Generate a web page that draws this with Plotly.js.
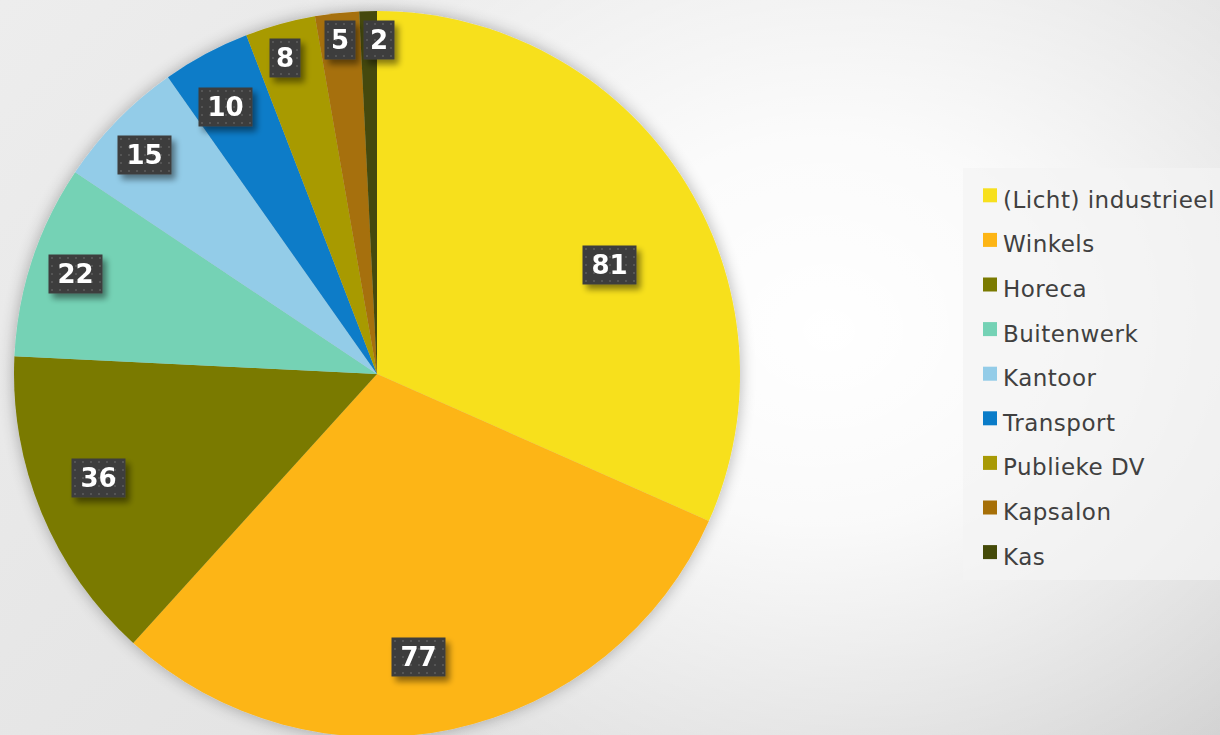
<!DOCTYPE html>
<html>
<head>
<meta charset="utf-8">
<script src="https://cdn.plot.ly/plotly-3.0.1.min.js"></script>
<style>
html, body { margin: 0; padding: 0; width: 1220px; height: 735px; overflow: hidden; }
body {
  background:
    radial-gradient(ellipse 55% 75% at 68% 45%, rgba(255,255,255,1) 0%, rgba(255,255,255,0.85) 35%, rgba(255,255,255,0) 100%),
    linear-gradient(135deg, #ededed 0%, #e4e4e4 50%, #cfcfcf 100%);
}
#chart { width: 1220px; height: 750px; }
.legendtext { letter-spacing: 0.5px; }
</style>
</head>
<body>
<svg width="0" height="0" style="position:absolute">
  <defs>
    <filter id="pieShadow" x="-10%" y="-10%" width="120%" height="120%">
      <feGaussianBlur in="SourceAlpha" stdDeviation="8"/>
      <feComponentTransfer><feFuncA type="linear" slope="0.3"/></feComponentTransfer>
      <feMerge><feMergeNode/><feMergeNode in="SourceGraphic"/></feMerge>
    </filter>
    <filter id="boxShadow" x="-40%" y="-40%" width="200%" height="200%">
      <feGaussianBlur in="SourceAlpha" stdDeviation="3"/>
      <feOffset dx="4" dy="5"/>
      <feComponentTransfer><feFuncA type="linear" slope="0.45"/></feComponentTransfer>
      <feMerge><feMergeNode/><feMergeNode in="SourceGraphic"/></feMerge>
    </filter>
    <pattern id="dots" width="8" height="8" patternUnits="userSpaceOnUse">
      <rect width="8" height="8" fill="#3c3c3c"/>
      <rect x="3" y="3" width="2" height="2" fill="#545454"/>
    </pattern>
  </defs>
</svg>
<div id="chart"></div>
<script>
// ---- data ----
const categories = ["(Licht) industrieel", "Winkels", "Horeca", "Buitenwerk", "Kantoor", "Transport", "Publieke DV", "Kapsalon", "Kas"];
const counts = [81, 77, 36, 22, 15, 10, 8, 5, 2];
const sliceColors = ["#F7E01E", "#FDB515", "#7A7A00", "#74D2B5", "#93CCE8", "#0A7CC8", "#A89A05", "#A66F07", "#444A08"];

// ---- layout config (label placement, like Excel's best fit) ----
const labelRadius = [0.708, 0.788, 0.82, 0.876, 0.879, 0.846, 0.907, 0.925, 0.92];
const labelAngleShift = [8, 3.7, 2, 0, -1, -1.4, -0.8, 0, 1.7];

const W = 1220, H = 750;
const PIE_CX = 377, PIE_CY = 374, PIE_R = 363;
const domX = [(PIE_CX - PIE_R) / W, (PIE_CX + PIE_R) / W];
const domY = [(H - (PIE_CY + PIE_R)) / H, (H - (PIE_CY - PIE_R)) / H];

const total = counts.reduce((a, b) => a + b, 0);
let cum = 0;
const annotations = counts.map((v, i) => {
  const midDeg = (cum + v / 2) / total * 360 + labelAngleShift[i];
  cum += v;
  const a = midDeg * Math.PI / 180;
  const r = PIE_R * labelRadius[i];
  const px = PIE_CX + r * Math.sin(a);
  const py = PIE_CY - r * Math.cos(a);
  const txt = String(v);
  return {
    x: px / W, y: (H - py) / H, xref: 'paper', yref: 'paper',
    xanchor: 'center', yanchor: 'middle', showarrow: false,
    text: txt,
    font: { family: 'DejaVu Sans', size: 26, color: '#ffffff', weight: 'bold' },
    bgcolor: '#3c3c3c', borderpad: 4, borderwidth: 1, bordercolor: 'rgba(0,0,0,0)',
    width: 23 * txt.length - 1, height: 30
  };
});

const trace = {
  type: 'pie',
  labels: categories.map(c => '<span style="font-size:23px">' + c + '</span>'),
  values: counts,
  marker: { colors: sliceColors, line: { width: 0 } },
  sort: false,
  direction: 'clockwise',
  rotation: 0,
  textinfo: 'none',
  hoverinfo: 'label+value',
  domain: { x: domX, y: domY }
};

const layout = {
  width: W, height: H,
  margin: { l: 0, r: 0, t: 0, b: 0, autoexpand: false },
  paper_bgcolor: 'rgba(0,0,0,0)',
  plot_bgcolor: 'rgba(0,0,0,0)',
  showlegend: true,
  legend: {
    x: 963 / W, y: (H - 168) / H, xanchor: 'left', yanchor: 'top',
    bgcolor: 'rgba(244,244,244,0.7)', borderwidth: 0,
    font: { family: 'DejaVu Sans', size: 32, color: '#404040' },
    traceorder: 'normal'
  },
  annotations: annotations
};

Plotly.newPlot('chart', [trace], layout, { displayModeBar: false, staticPlot: true }).then(() => {
  document.querySelectorAll('.pielayer .trace').forEach(g => g.setAttribute('filter', 'url(#pieShadow)'));
  document.querySelectorAll('g.annotation').forEach(g => g.setAttribute('filter', 'url(#boxShadow)'));
  document.querySelectorAll('g.annotation rect.bg').forEach(r => { r.style.fill = 'url(#dots)'; });
  document.querySelectorAll('.legend path.legendpie').forEach(p => {
    p.setAttribute('d', 'M14,7H0V-7H14Z');
  });
});
</script>
</body>
</html>
